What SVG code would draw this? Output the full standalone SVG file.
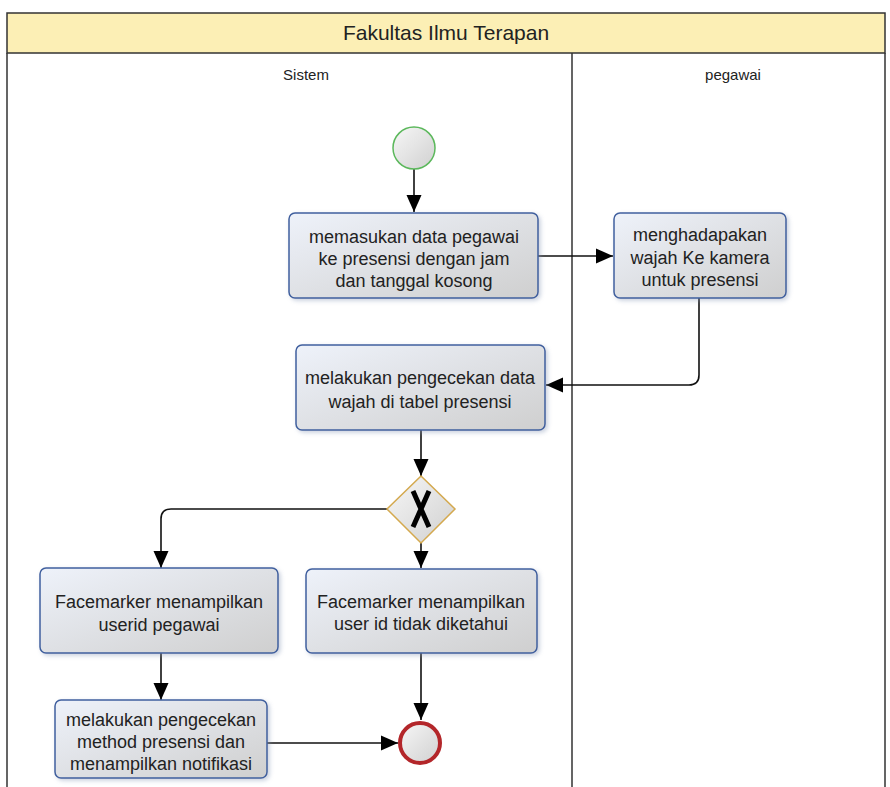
<svg xmlns="http://www.w3.org/2000/svg" width="890" height="787" viewBox="0 0 890 787">
<style>
.lbl{font-family:"Liberation Sans",Arial,sans-serif;fill:#222;text-anchor:middle}
.task text{font-size:18px}
.box{fill:url(#tg);stroke:#3f5f9e;stroke-width:1.5;filter:url(#sh)}
.con{fill:none;stroke:#111;stroke-width:1.6}
</style>
<defs>
<linearGradient id="tg" x1="0" y1="0" x2="1" y2="1">
<stop offset="0" stop-color="#eef2fa"/>
<stop offset="1" stop-color="#cfcfcf"/>
</linearGradient>
<linearGradient id="cg" x1="0" y1="0" x2="1" y2="1">
<stop offset="0" stop-color="#f7f7f7"/>
<stop offset="1" stop-color="#d0d0d0"/>
</linearGradient>
<filter id="sh" x="-10%" y="-10%" width="125%" height="130%">
<feDropShadow dx="2" dy="2" stdDeviation="2" flood-color="#8a9ab8" flood-opacity="0.45"/>
</filter>
<marker id="ar" markerUnits="userSpaceOnUse" markerWidth="18" markerHeight="18" viewBox="0 0 18 18" refX="17" refY="9" orient="auto">
<path d="M0,1.5 L17,9 L0,16.5 Z" fill="#000"/>
</marker>
</defs>
<rect width="890" height="787" fill="#fff"/>
<g id="pool">
<rect x="7" y="13" width="878" height="40" fill="#fcefb5" stroke="#333" stroke-width="1.5"/>
<path d="M7,53 V790 M885,53 V790 M572,53 V790" stroke="#333" stroke-width="1.5" fill="none"/>
<text class="lbl" x="446" y="40" font-size="21">Fakultas Ilmu Terapan</text>
<text class="lbl" x="306" y="80" font-size="15">Sistem</text>
<text class="lbl" x="733" y="80" font-size="15">pegawai</text>
</g>
<g id="connectors">
<path class="con" d="M414,169 V212" marker-end="url(#ar)"/>
<path class="con" d="M538,256 H613" marker-end="url(#ar)"/>
<path class="con" d="M699,298 V375 Q699,385 689,385 H546" marker-end="url(#ar)"/>
<path class="con" d="M421,430 V476" marker-end="url(#ar)"/>
<path class="con" d="M387,509 H171 Q161,509 161,519 V568" marker-end="url(#ar)"/>
<path class="con" d="M421,543 V568" marker-end="url(#ar)"/>
<path class="con" d="M161,653 V700" marker-end="url(#ar)"/>
<path class="con" d="M267,743 H398" marker-end="url(#ar)"/>
<path class="con" d="M421,653 V720" marker-end="url(#ar)"/>
</g>
<g id="start">
<circle cx="414" cy="148" r="21" fill="url(#cg)" stroke="#5cb85c" stroke-width="1.5"/>
</g>
<g id="t1" class="task">
<rect class="box" x="289" y="213" width="249" height="85" rx="6"/>
<text class="lbl" x="414" y="243">memasukan data pegawai</text>
<text class="lbl" x="414" y="265">ke presensi dengan jam</text>
<text class="lbl" x="414" y="287">dan tanggal kosong</text>
</g>
<g id="t2" class="task">
<rect class="box" x="614" y="213" width="172" height="85" rx="6"/>
<text class="lbl" x="700" y="241">menghadapakan</text>
<text class="lbl" x="700" y="264">wajah Ke kamera</text>
<text class="lbl" x="700" y="286">untuk presensi</text>
</g>
<g id="t3" class="task">
<rect class="box" x="296" y="345" width="249" height="85" rx="6"/>
<text class="lbl" x="420" y="384">melakukan pengecekan data</text>
<text class="lbl" x="420" y="408">wajah di tabel presensi</text>
</g>
<g id="gw">
<path d="M421,476 L455,509 L421,543 L387,509 Z" fill="url(#cg)" stroke="#d4a94e" stroke-width="1.5"/>
<path d="M413,491 Q421,509 429,527 M429,491 Q421,509 413,527" stroke="#000" stroke-width="5" fill="none"/>
</g>
<g id="t4" class="task">
<rect class="box" x="40" y="568" width="238" height="85" rx="6"/>
<text class="lbl" x="159" y="608">Facemarker menampilkan</text>
<text class="lbl" x="159" y="631">userid pegawai</text>
</g>
<g id="t5" class="task">
<rect class="box" x="306" y="569" width="231" height="84" rx="6"/>
<text class="lbl" x="421" y="608">Facemarker menampilkan</text>
<text class="lbl" x="421" y="630">user id tidak diketahui</text>
</g>
<g id="t6" class="task">
<rect class="box" x="55" y="700" width="212" height="78" rx="6"/>
<text class="lbl" x="161" y="726">melakukan pengecekan</text>
<text class="lbl" x="161" y="748">method presensi dan</text>
<text class="lbl" x="161" y="770">menampilkan notifikasi</text>
</g>
<g id="end">
<circle cx="420" cy="743" r="20" fill="url(#cg)" stroke="#b3262a" stroke-width="4"/>
</g>
</svg>
